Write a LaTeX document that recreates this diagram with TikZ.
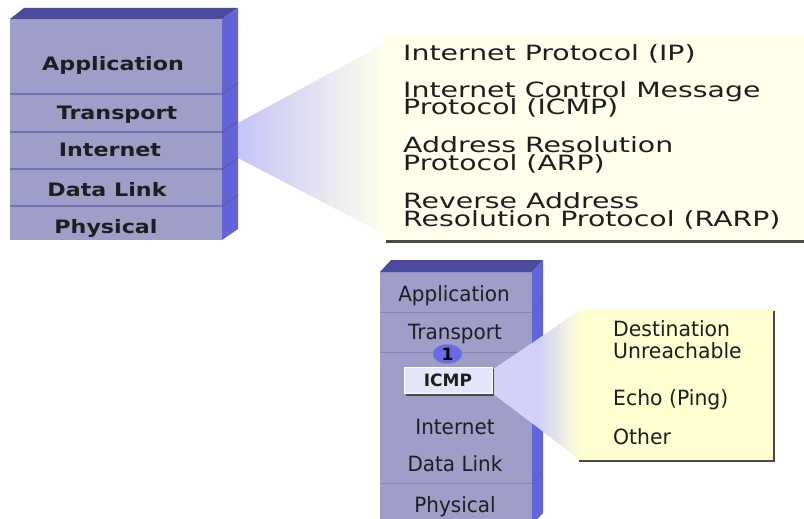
\documentclass[tikz,border=0pt]{standalone}
\usepackage{fontspec}
\setmainfont{DejaVu Sans}
\newfontfamily\widestackfont[FakeStretch=1.2]{DejaVu Sans}
\newfontfamily\listfont[FakeStretch=1.35]{DejaVu Sans}
\newfontfamily\slimfont[FakeStretch=0.95]{DejaVu Sans}
\newfontfamily\notefont[FakeStretch=0.97]{DejaVu Sans}
\usetikzlibrary{shapes.geometric}

\definecolor{layerfront}{HTML}{9E9EC8}
\definecolor{layertop}{HTML}{4A4A9E}
\definecolor{layerside}{HTML}{6464DA}
\definecolor{layerline}{HTML}{5C5CA8}
\definecolor{layerlinesoft}{HTML}{8686B6}
\definecolor{notepaper}{HTML}{FFFFEC}
\definecolor{notepaperb}{HTML}{FFFFD2}
\definecolor{wedgeblue}{HTML}{C4C4F6}
\definecolor{wedgeblueb}{HTML}{D2D2F8}
\definecolor{shadowgrey}{HTML}{4A4A4A}
\definecolor{badgeblue}{HTML}{6A6AE8}
\definecolor{inktext}{HTML}{1E1E1E}
\definecolor{icmpfill}{HTML}{E6E6FA}

\tikzset{
  front/.style={fill=layerfront},
  topface/.style={fill=layertop},
  sideface/.style={fill=layerside},
  bigstacklabel/.style={inner sep=0, anchor=base, text=inktext,
    font=\widestackfont\bfseries\fontsize{18.5}{20}\selectfont},
  slimstacklabel/.style={inner sep=0, anchor=base, text=inktext,
    font=\slimfont\fontsize{21}{22}\selectfont},
  listline/.style={inner sep=0, anchor=base west, text=inktext,
    font=\listfont\fontsize{21}{22}\selectfont},
  noteline/.style={inner sep=0, anchor=base west, text=inktext,
    font=\notefont\fontsize{21}{22}\selectfont},
}

\begin{document}
\begin{tikzpicture}[x=1pt,y=-1pt]
\useasboundingbox (0,0) rectangle (804,519);
\fill[white] (0,0) rectangle (804,519);

% ---------- large protocol stack ----------
\fill[front] (10,19) rectangle (222,240);
\fill[topface] (10,19) -- (24,8) -- (238,8) -- (222,19) -- cycle;
\fill[sideface] (222,19) -- (238,8) -- (238,229) -- (222,240) -- cycle;
\foreach \yy in {94,132,169,206}{
  \draw[layerline, line width=1.2pt] (10,\yy) -- (222,\yy) -- (238,\yy-11);
}
\node[bigstacklabel] (tl-app) at (113,70.7) {Application};
\node[bigstacklabel] (tl-trn) at (117,119)  {Transport};
\node[bigstacklabel] (tl-int) at (110,157)  {Internet};
\node[bigstacklabel] (tl-dl)  at (107,196)  {Data Link};
\node[bigstacklabel] (tl-phy) at (106,233)  {Physical};

% ---------- callout for the Internet layer ----------
\coordinate (w1a) at (238,123);
\coordinate (w1b) at (238,158);
\coordinate (w1c) at (384,234);
\coordinate (w1d) at (384,44);
\fill[shadowgrey] (386,238) rectangle (810,243);
\fill[notepaper] (384,35) rectangle (810,240);
\shade[left color=wedgeblue, right color=notepaper]
  (w1a) -- (w1d) -- (w1c) -- (w1b) -- cycle;

\node[listline] (ip)     at (403,61)  {Internet Protocol (IP)};
\node[listline] (icmp1)  at (403,98)  {Internet Control Message};
\node[listline] (icmp2)  at (403,114.5) {Protocol (ICMP)};
\node[listline] (arp1)   at (403,153) {Address Resolution};
\node[listline] (arp2)   at (403,170) {Protocol (ARP)};
\node[listline] (rarp1)  at (403,208) {Reverse Address};
\node[listline] (rarp2)  at (403,226) {Resolution Protocol (RARP)};

% ---------- small protocol stack ----------
\fill[front] (380,272) rectangle (532,525);
\fill[topface] (380,272) -- (391,260) -- (543,260) -- (532,272) -- cycle;
\fill[sideface] (532,272) -- (543,260) -- (543,513) -- (532,525) -- cycle;
\foreach \yy in {312,352,483}{
  \draw[layerlinesoft, line width=1pt] (380,\yy) -- (532,\yy);
  \draw[layerline, line width=0.6pt] (532,\yy) -- (543,\yy-12);
}
\node[slimstacklabel] (bs-app) at (454,301.5) {Application};
\node[slimstacklabel] (bs-trn) at (455,339)   {Transport};
\node[slimstacklabel] (bs-int) at (455,434.5) {Internet};
\node[slimstacklabel] (bs-dl)  at (455,471.5) {Data Link};
\node[slimstacklabel] (bs-phy) at (455,512.5) {Physical};

% ---------- callout for ICMP ----------
\coordinate (w2a) at (492,370);
\coordinate (w2b) at (492,393);
\coordinate (w2c) at (578,458);
\coordinate (w2d) at (578,312);
\fill[shadowgrey] (579,311) rectangle (775,462);
\fill[notepaperb] (577,309) rectangle (773,460);
\begin{scope}
  \clip (w2a) -- (w2d) -- (w2c) -- (w2b) -- cycle;
  \fill[wedgeblueb] (490,300) rectangle (580,470);
  \shade[left color=wedgeblueb, right color=notepaperb] (540,300) rectangle (579,470);
\end{scope}

\node[noteline] (dest1) at (613,336) {Destination};
\node[noteline] (dest2) at (613,358) {Unreachable};
\node[noteline] (echo)  at (613,405) {Echo (Ping)};
\node[noteline] (other) at (613,444) {Other};

% ICMP tab with its shadow
\fill[shadowgrey] (406,369) rectangle (494,395.5);
\node[draw=white, line width=0.8pt, fill=icmpfill, minimum width=88pt,
      minimum height=26pt, inner sep=0, text=inktext,
      font=\bfseries\fontsize{17}{18}\selectfont] (icmp) at (448,380) {ICMP};

% step badge
\node[ellipse, draw=layertop!70, fill=badgeblue, minimum width=29pt,
      minimum height=19pt, inner sep=0, text=black,
      font=\bfseries\fontsize{17}{17}\selectfont] (badge) at (447.5,354) {1};
\end{tikzpicture}
\end{document}
